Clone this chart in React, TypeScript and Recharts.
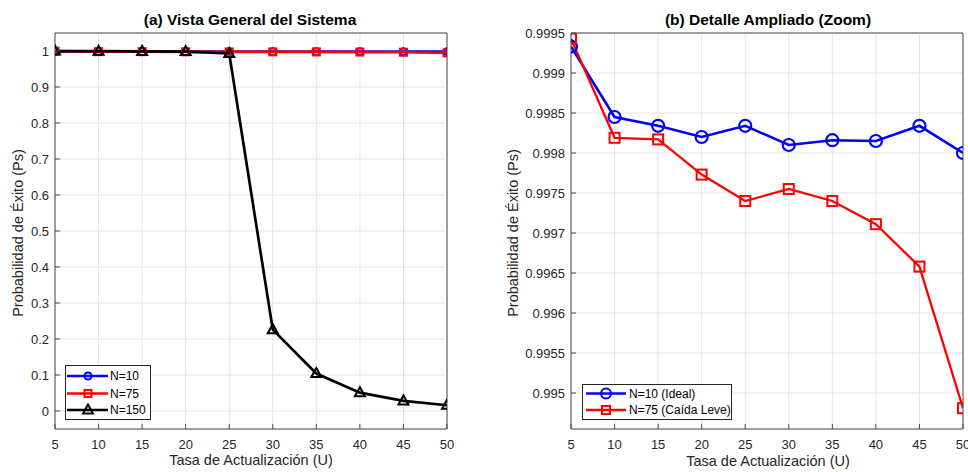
import { LineChart, Line, XAxis, YAxis, CartesianGrid } from 'recharts'

// Tasa de actualización (U)
const U_VALUES = [5, 10, 15, 20, 25, 30, 35, 40, 45, 50]

// Probabilidad de éxito (Ps) por tamaño de red
const N10_PS = [0.99933, 0.99845, 0.99834, 0.9982, 0.99834, 0.9981, 0.99816, 0.99815, 0.99834, 0.998]
const N75_PS = [0.99943, 0.99819, 0.99817, 0.99773, 0.9974, 0.99755, 0.9974, 0.99711, 0.99658, 0.99481]
const N150_PS = [0.9997, 0.9994, 0.9988, 0.9985, 0.993, 0.226, 0.104, 0.051, 0.028, 0.016]

const TICKS_A = [0, 0.1, 0.2, 0.3, 0.4, 0.5, 0.6, 0.7, 0.8, 0.9, 1]
const TICKS_B = [0.995, 0.9955, 0.996, 0.9965, 0.997, 0.9975, 0.998, 0.9985, 0.999, 0.9995]

const TITLE_A = '(a) Vista General del Sistema'
const TITLE_B = '(b) Detalle Ampliado (Zoom)'
const X_LABEL = 'Tasa de Actualización (U)'
const Y_LABEL = 'Probabilidad de Éxito (Ps)'
const LEGEND_A = ['N=10', 'N=75', 'N=150']
const LEGEND_B = ['N=10 (Ideal)', 'N=75 (Caída Leve)']

const BLUE = '#0000ff'
const RED = '#ff0000'
const BLACK = '#000000'
const AXIS = '#4d4d4d'
const TEXT = '#262626'
const GRID = '#e4e4e4'
const FONT = '"Liberation Sans", Arial, Helvetica, sans-serif'

const rows = U_VALUES.map((u, i) => ({ u, n10: N10_PS[i], n75: N75_PS[i], n150: N150_PS[i] }))

type Shape = 'circle' | 'square' | 'triangle'

function Marker({ cx, cy, shape, size, color, sw }: { cx: number; cy: number; shape: Shape; size: number; color: string; sw: number }) {
  const h = size / 2
  if (shape === 'circle') return <circle cx={cx} cy={cy} r={h} fill="none" stroke={color} strokeWidth={sw} />
  if (shape === 'square')
    return <rect x={cx - h} y={cy - h} width={size} height={size} fill="none" stroke={color} strokeWidth={sw} />
  return (
    <polygon
      points={`${cx},${cy - h * 1.1} ${cx - h},${cy + h * 0.7} ${cx + h},${cy + h * 0.7}`}
      fill="none"
      stroke={color}
      strokeWidth={sw}
      strokeLinejoin="miter"
    />
  )
}

function dotFn(shape: Shape, size: number, color: string, sw: number) {
  return (p: any) => (
    <Marker key={`${shape}-${p.index}`} cx={p.cx} cy={p.cy} shape={shape} size={size} color={color} sw={sw} />
  )
}

function fmtA(v: number) {
  return String(Number(v.toFixed(1)))
}
function fmtB(v: number) {
  return String(Number(v.toFixed(4)))
}

function YTick(props: any) {
  const { x, y, payload, fmt } = props
  return (
    <g>
      <line x1={x + 6} x2={x + 11} y1={y} y2={y} stroke={AXIS} />
      <text x={x} y={y} textAnchor="end" dominantBaseline="central" fontSize={13} fill={TEXT}>
        {fmt(payload.value)}
      </text>
    </g>
  )
}

function XTick(props: any) {
  const { x, y, payload } = props
  return (
    <g>
      <line x1={x} x2={x} y1={y - 6} y2={y - 11} stroke={AXIS} />
      <text x={x} y={y + 9} textAnchor="middle" dominantBaseline="central" fontSize={13} fill={TEXT}>
        {payload.value}
      </text>
    </g>
  )
}

function Axes({ yDomain, yTicks, fmt, yWidth }: { yDomain: number[]; yTicks: number[]; fmt: (v: number) => string; yWidth: number }) {
  return [
    <XAxis
      key="xb"
      dataKey="u"
      type="number"
      domain={[5, 50]}
      ticks={U_VALUES}
      interval={0}
      allowDataOverflow
      height={43}
      tickSize={0}
      tickMargin={6}
      tickLine={false}
      axisLine={{ stroke: AXIS }}
      tick={<XTick />}
    />,
    <XAxis
      key="xt"
      xAxisId="t"
      orientation="top"
      mirror
      dataKey="u"
      type="number"
      domain={[5, 50]}
      ticks={U_VALUES}
      interval={0}
      allowDataOverflow
      tick={false}
      tickSize={5}
      tickLine={{ stroke: AXIS }}
      axisLine={{ stroke: AXIS }}
    />,
    <YAxis
      key="yl"
      type="number"
      domain={yDomain}
      ticks={yTicks}
      interval={0}
      allowDataOverflow
      width={yWidth}
      tickSize={0}
      tickMargin={6}
      tickLine={false}
      axisLine={{ stroke: AXIS }}
      tick={<YTick fmt={fmt} />}
    />,
    <YAxis
      key="yr"
      yAxisId="r"
      orientation="right"
      mirror
      type="number"
      domain={yDomain}
      ticks={yTicks}
      interval={0}
      allowDataOverflow
      tick={false}
      tickSize={5}
      tickLine={{ stroke: AXIS }}
      axisLine={{ stroke: AXIS }}
    />,
  ]
}

type LegendItem = { label: string; color: string; shape: Shape; size: number }

function LegendBox({ left, top, width, height, rowYs, lineX, markerX, textX, items }: {
  left: number; top: number; width: number; height: number; rowYs: number[]
  lineX: [number, number]; markerX: number; textX: number; items: LegendItem[]
}) {
  return (
    <svg style={{ position: 'absolute', left, top }} width={width} height={height}>
      <rect x={0.5} y={0.5} width={width - 1} height={height - 1} fill="#ffffff" stroke={TEXT} strokeWidth={1} />
      {items.map((it, i) => (
        <g key={it.label}>
          <line x1={lineX[0]} x2={lineX[1]} y1={rowYs[i]} y2={rowYs[i]} stroke={it.color} strokeWidth={2.5} />
          <Marker cx={markerX} cy={rowYs[i]} shape={it.shape} size={it.size} color={it.color} sw={2} />
          <text x={textX} y={rowYs[i]} dominantBaseline="central" fontSize={12} fill={BLACK}>
            {it.label}
          </text>
        </g>
      ))}
    </svg>
  )
}

function TextAt({ x, y, text, size, bold, rotate }: { x: number; y: number; text: string; size: number; bold?: boolean; rotate?: boolean }) {
  return (
    <div
      style={{
        position: 'absolute',
        left: x,
        top: y,
        transform: `translate(-50%, -50%)${rotate ? ' rotate(-90deg)' : ''}`,
        whiteSpace: 'nowrap',
        fontSize: size,
        fontWeight: bold ? 'bold' : 'normal',
        color: bold ? BLACK : TEXT,
        lineHeight: 1,
      }}
    >
      {text}
    </div>
  )
}

export default function App() {
  return (
    <div
      style={{
        position: 'absolute',
        left: 0,
        top: 0,
        width: 968,
        height: 472,
        overflow: 'hidden',
        background: '#ffffff',
        fontFamily: FONT,
      }}
    >
      <div style={{ position: 'absolute', left: 0, top: 0 }}>
        <LineChart width={484} height={472} data={rows} margin={{ top: 33, right: 37, bottom: 0, left: 0 }}>
          <CartesianGrid stroke={GRID} strokeWidth={1} />
          {Axes({ yDomain: [-0.05, 1.05], yTicks: TICKS_A, fmt: fmtA, yWidth: 55 })}
          <Line dataKey="n10" stroke={BLUE} strokeWidth={2.7} dot={dotFn('circle', 7, BLUE, 1.8)} isAnimationActive={false} />
          <Line dataKey="n75" stroke={RED} strokeWidth={2.7} dot={dotFn('square', 7, RED, 2)} isAnimationActive={false} />
          <Line dataKey="n150" stroke={BLACK} strokeWidth={2.7} dot={dotFn('triangle', 10, BLACK, 2)} isAnimationActive={false} />
        </LineChart>
      </div>
      <div style={{ position: 'absolute', left: 484, top: 0 }}>
        <LineChart width={500} height={472} data={rows} margin={{ top: 33, right: 21, bottom: 0, left: 0 }}>
          <CartesianGrid stroke={GRID} strokeWidth={1} />
          {Axes({ yDomain: [0.99455, 0.9995], yTicks: TICKS_B, fmt: fmtB, yWidth: 87 })}
          <Line dataKey="n10" stroke={BLUE} strokeWidth={2.6} dot={dotFn('circle', 12, BLUE, 2.2)} isAnimationActive={false} />
          <Line dataKey="n75" stroke={RED} strokeWidth={2.3} dot={dotFn('square', 10, RED, 2)} isAnimationActive={false} />
        </LineChart>
      </div>

      <TextAt x={250} y={20} text={TITLE_A} size={15.5} bold />
      <TextAt x={768} y={20} text={TITLE_B} size={15.5} bold />
      <TextAt x={251} y={460} text={X_LABEL} size={14.5} />
      <TextAt x={768} y={461} text={X_LABEL} size={14.5} />
      <TextAt x={18} y={233} text={Y_LABEL} size={14.5} rotate />
      <TextAt x={513} y={233} text={Y_LABEL} size={14.5} rotate />

      <LegendBox
        left={65}
        top={365}
        width={86}
        height={55}
        rowYs={[11, 28.5, 45]}
        lineX={[2, 43]}
        markerX={23}
        textX={45}
        items={[
          { label: LEGEND_A[0], color: BLUE, shape: 'circle', size: 7 },
          { label: LEGEND_A[1], color: RED, shape: 'square', size: 7 },
          { label: LEGEND_A[2], color: BLACK, shape: 'triangle', size: 10 },
        ]}
      />
      <LegendBox
        left={582}
        top={384}
        width={150}
        height={36}
        rowYs={[9.5, 26]}
        lineX={[4, 44]}
        markerX={24}
        textX={47}
        items={[
          { label: LEGEND_B[0], color: BLUE, shape: 'circle', size: 10 },
          { label: LEGEND_B[1], color: RED, shape: 'square', size: 8 },
        ]}
      />
    </div>
  )
}
